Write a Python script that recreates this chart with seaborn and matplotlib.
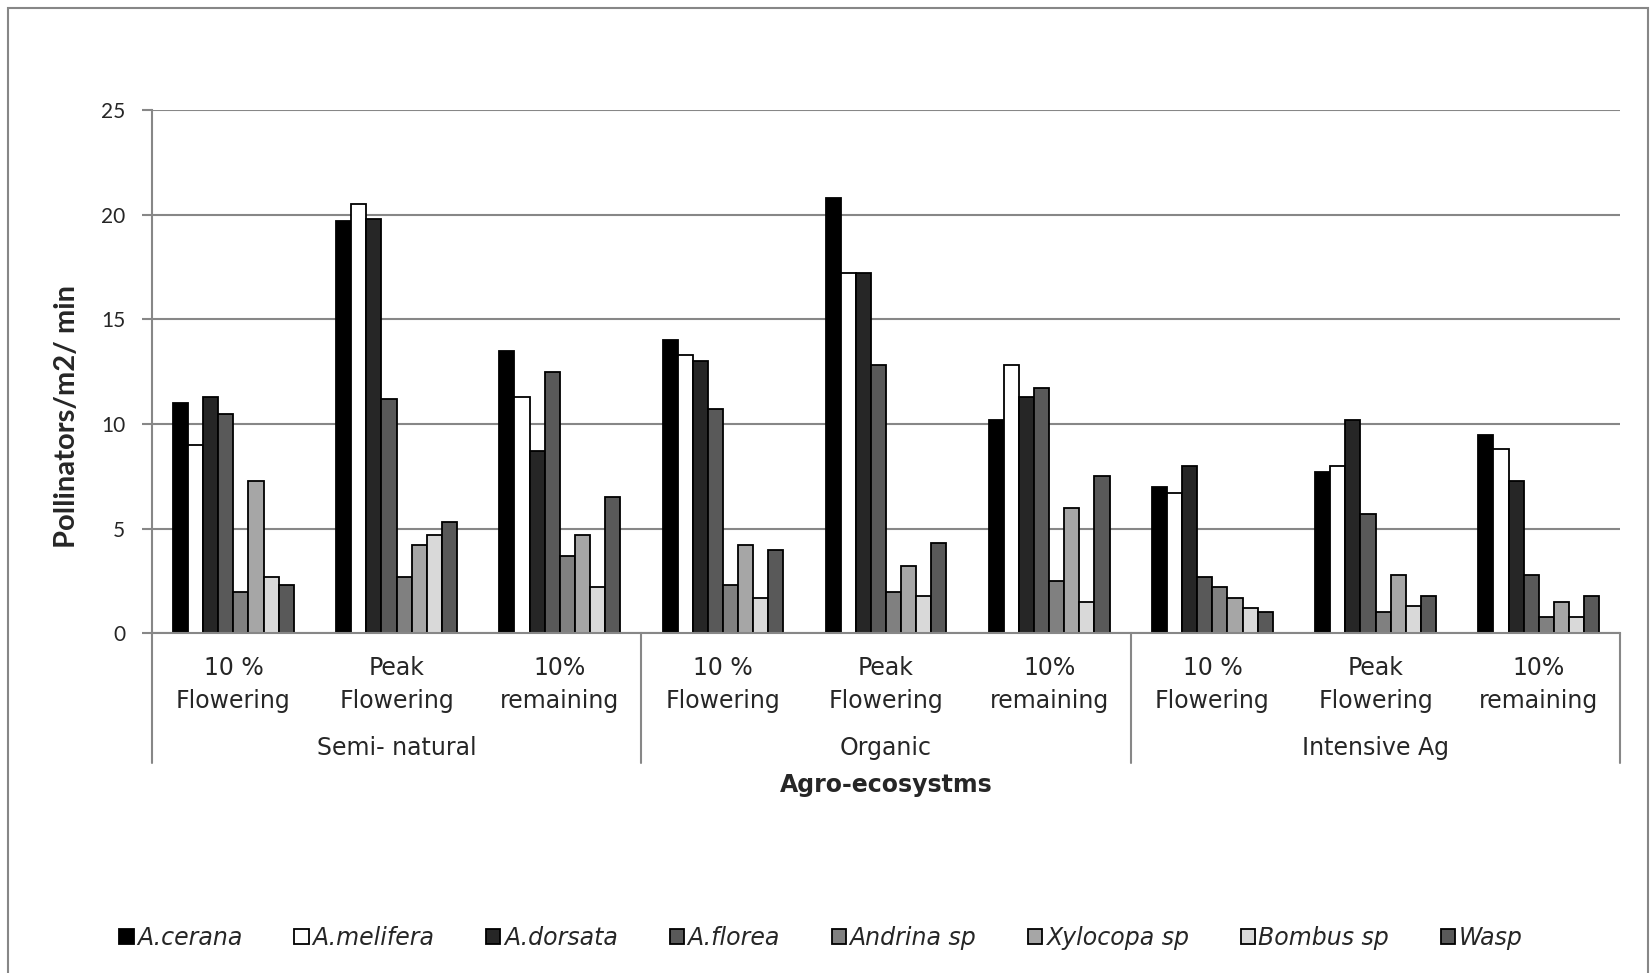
import pandas as pd
import numpy as np
import matplotlib.pyplot as plt
import seaborn as sns
from matplotlib.patches import Rectangle

# data
groups = ["Semi- natural", "Organic", "Intensive Ag"]
stages = ["10 %\nFlowering", "Peak\nFlowering", "10%\nremaining"]
species = ["A.cerana", "A.melifera", "A.dorsata", "A.florea",
           "Andrina sp", "Xylocopa sp", "Bombus sp", "Wasp"]

cerana = [11.0, 19.7, 13.5, 14.0, 20.8, 10.2, 7.0, 7.7, 9.5]
melifera = [9.0, 20.5, 11.3, 13.3, 17.2, 12.8, 6.7, 8.0, 8.8]
dorsata = [11.3, 19.8, 8.7, 13.0, 17.2, 11.3, 8.0, 10.2, 7.3]
florea = [10.5, 11.2, 12.5, 10.7, 12.8, 11.7, 2.7, 5.7, 2.8]
andrina = [2.0, 2.7, 3.7, 2.3, 2.0, 2.5, 2.2, 1.0, 0.8]
xylocopa = [7.3, 4.2, 4.7, 4.2, 3.2, 6.0, 1.7, 2.8, 1.5]
bombus = [2.7, 4.7, 2.2, 1.7, 1.8, 1.5, 1.2, 1.3, 0.8]
wasp = [2.3, 5.3, 6.5, 4.0, 4.3, 7.5, 1.0, 1.8, 1.8]

colors = ["#000000", "#ffffff", "#262626", "#595959",
          "#808080", "#a6a6a6", "#d9d9d9", "#595959"]

# long-form table
cats = [g + "|" + s for g in groups for s in stages]
series = [cerana, melifera, dorsata, florea, andrina, xylocopa, bombus, wasp]
rows = []
for sp, vals in zip(species, series):
    for c, v in zip(cats, vals):
        rows.append({"cat": c, "species": sp, "value": v})
df = pd.DataFrame(rows)

sns.set_style("white")
plt.rcParams["font.family"] = ["Lato", "DejaVu Sans"]
label_font = ["DejaVu Sans"]

fig = plt.figure(figsize=(16.5, 9.73), dpi=100)
ax = fig.add_axes([0.092, 0.349, 0.890, 0.538])

sns.barplot(data=df, x="cat", y="value", hue="species", order=cats,
            hue_order=species, palette=colors, width=0.74, gap=0,
            edgecolor="black", linewidth=1.3, saturation=1, ax=ax,
            legend=True, errorbar=None)

ax.set_ylim(0, 25)
ax.set_yticks([0, 5, 10, 15, 20, 25])
ax.set_xlim(-0.5, len(cats) - 0.5)
ax.yaxis.grid(True, color="#878787", linewidth=1.5)
ax.set_axisbelow(True)
for s in ["top", "right"]:
    ax.spines[s].set_visible(False)
for s in ["left", "bottom"]:
    ax.spines[s].set_color("#878787")
    ax.spines[s].set_linewidth(1.5)

ax.tick_params(axis="y", left=True, length=7, width=1.5, color="#878787",
               labelsize=15, pad=12)
ax.set_xticks(range(len(cats)))
ax.set_xticklabels([c.split("|")[1] for c in cats], fontsize=17,
                   linespacing=1.5, family=label_font)
ax.tick_params(axis="x", length=0, pad=16)

ax.set_ylabel("Pollinators/m2/ min", fontsize=21, fontweight="bold")
ax.yaxis.set_label_coords(-0.049, 0.4145)
ax.set_xlabel("")

# group labels and separators below the axis
trans = ax.get_xaxis_transform()
for i, g in enumerate(groups):
    ax.text(i * 3 + 1, -0.218, g, transform=trans, ha="center", va="center",
            fontsize=17, family=label_font)
for k in range(len(groups) + 1):
    ax.plot([k * 3 - 0.5, k * 3 - 0.5], [0, -0.248], transform=trans,
            color="#878787", linewidth=1.5, clip_on=False)

ax.text(0.5, -0.29, "Agro-ecosystms", transform=ax.transAxes,
        ha="center", va="center", fontsize=17, fontweight="bold",
        family=label_font)

# legend along the bottom
handles, labels = ax.get_legend_handles_labels()
ax.legend_.remove()
fig.legend(handles, labels, loc="center", bbox_to_anchor=(0.4976, 0.036),
           ncol=8, frameon=False, handlelength=0.6, handleheight=0.6,
           handletextpad=0.15, columnspacing=2.2,
           prop={"family": label_font, "style": "italic", "size": 17})

# outer chart border
fig.patches.append(Rectangle((8 / 1650, -0.1), 1 - 10 / 1650, 1.1 - 8 / 973,
                             transform=fig.transFigure, fill=False,
                             edgecolor="#878787", linewidth=1.5))

fig.savefig("out.png", dpi=100)
